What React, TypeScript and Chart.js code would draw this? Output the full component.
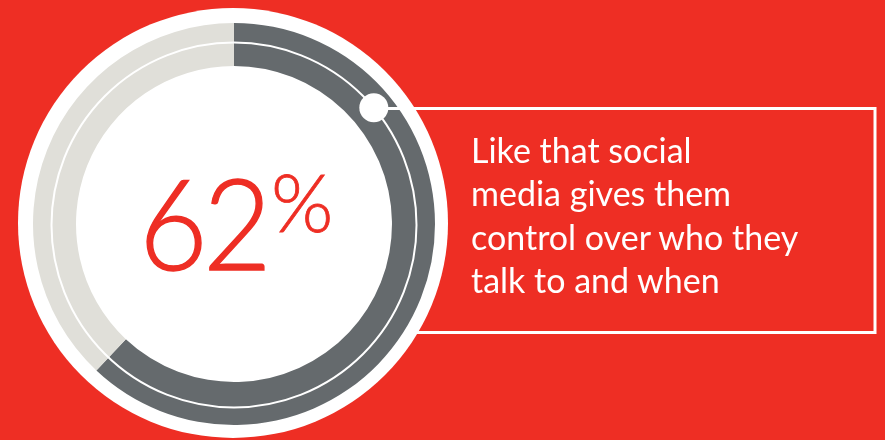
import React, { useEffect, useRef } from "react";
import { Chart, registerables } from "chart.js";

Chart.register(...registerables);

// ---- data ----
const categories: string[] = ["Like the control", "Other"];
const values: number[] = [62, 38];
const headline: string = "62";
const headlineUnit: string = "%";
const captionLines: string[] = [
  "Like that social",
  "media gives them",
  "control over who they",
  "talk to and when",
];

// ---- styles ----
const RED = "#EE2E24";
const DARK = "#656A6D";
const LIGHT = "#E0DFD9";
const WHITE = "#FFFFFF";
const W = 885;
const H = 440;

const decorPlugin = {
  id: "decor",
  beforeDraw(chart: any) {
    const ctx = chart.ctx as CanvasRenderingContext2D;
    const arc: any = chart.getDatasetMeta(0).data[0];
    if (!arc) return;
    const cx = arc.x;
    const cy = arc.y;
    const R = arc.outerRadius;
    ctx.save();
    ctx.fillStyle = RED;
    ctx.fillRect(0, 0, chart.width, chart.height);
    // callout rectangle (left side hidden behind white disc)
    ctx.strokeStyle = WHITE;
    ctx.lineWidth = 3;
    ctx.strokeRect(cx + 60, 108.5, 875 - (cx + 60), 332.5 - 108.5);
    // white disc
    ctx.beginPath();
    ctx.arc(cx - 1, cy - 1, R + 14, 0, Math.PI * 2);
    ctx.fillStyle = WHITE;
    ctx.fill();
    ctx.restore();
  },
  afterDraw(chart: any) {
    const ctx = chart.ctx as CanvasRenderingContext2D;
    const arc: any = chart.getDatasetMeta(0).data[0];
    if (!arc) return;
    const cx = arc.x;
    const cy = arc.y + 1;
    const rThin = arc.innerRadius + (arc.outerRadius - arc.innerRadius) * 0.57;
    ctx.save();
    ctx.strokeStyle = WHITE;
    ctx.lineWidth = 2;
    ctx.beginPath();
    ctx.arc(cx, cy, rThin, 0, Math.PI * 2);
    ctx.stroke();
    const a = (50 * Math.PI) / 180;
    const dx = cx + rThin * Math.sin(a);
    const dy = cy - rThin * Math.cos(a);
    ctx.lineWidth = 3;
    ctx.beginPath();
    ctx.moveTo(dx, 108.5);
    ctx.lineTo(875, 108.5);
    ctx.stroke();
    ctx.beginPath();
    ctx.arc(dx, dy, 14.5, 0, Math.PI * 2);
    ctx.fillStyle = WHITE;
    ctx.fill();
    ctx.restore();
  },
};

export default function App() {
  const ref = useRef<HTMLCanvasElement | null>(null);
  useEffect(() => {
    if (!ref.current) return;
    const chart = new Chart(ref.current, {
      type: "doughnut",
      data: {
        labels: categories,
        datasets: [
          {
            data: values,
            backgroundColor: [DARK, LIGHT],
            borderWidth: 0,
            hoverOffset: 0,
          },
        ],
      },
      options: {
        responsive: false,
        animation: false,
        cutout: "78.6%",
        rotation: 0,
        layout: { padding: { left: 33, top: 23, right: 450, bottom: 15 } },
        plugins: {
          legend: { display: false },
          tooltip: { enabled: false },
          title: { display: false },
        },
        events: [],
      },
      plugins: [decorPlugin],
    });
    return () => chart.destroy();
  }, []);

  const font = "Lato, 'Open Sans', sans-serif";
  return (
    <div
      style={{
        position: "fixed",
        left: 0,
        top: 0,
        width: W,
        height: H,
        overflow: "hidden",
        background: RED,
      }}
    >
      <canvas ref={ref} width={W} height={H} style={{ width: W, height: H, display: "block" }} />
      <div
        style={{
          position: "absolute",
          left: 139,
          top: 159,
          fontFamily: font,
          fontWeight: 300,
          color: RED,
          fontSize: 126,
          lineHeight: "126px",
          letterSpacing: -5,
          WebkitTextStroke: `1.4px ${RED}`,
          whiteSpace: "nowrap",
          transform: "scaleX(0.94)",
          transformOrigin: "left top",
        }}
      >
        {headline}
      </div>
      <div
        style={{
          position: "absolute",
          left: 271,
          top: 161,
          fontFamily: font,
          fontWeight: 300,
          color: RED,
          fontSize: 80,
          lineHeight: "80px",
          WebkitTextStroke: `0.8px ${RED}`,
          whiteSpace: "nowrap",
        }}
      >
        {headlineUnit}
      </div>
      <div
        style={{
          position: "absolute",
          left: 471,
          top: 128.2,
          fontFamily: font,
          fontWeight: 400,
          color: WHITE,
          fontSize: 34,
          lineHeight: "43.3px",
          whiteSpace: "nowrap",
        }}
      >
        {captionLines.map((l, i) => (
          <div key={i}>{l}</div>
        ))}
      </div>
    </div>
  );
}
